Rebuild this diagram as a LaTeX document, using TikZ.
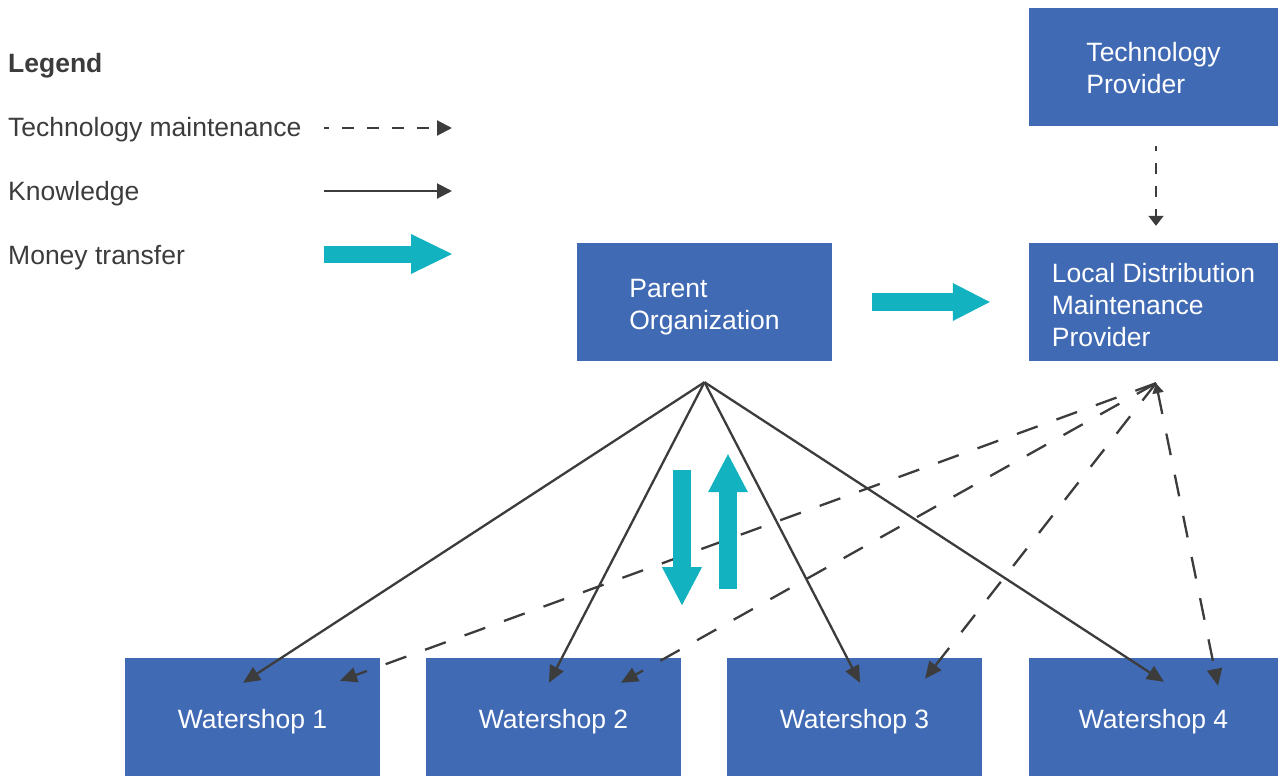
\documentclass[tikz,border=0pt]{standalone}
\usepackage{fontspec}
\setmainfont{Liberation Sans}
\usetikzlibrary{arrows.meta, calc}

\definecolor{boxblue}{RGB}{65,106,180}
\definecolor{moneyteal}{RGB}{18,178,193}
\definecolor{linegray}{RGB}{60,60,60}

% box text, lowered a little inside its box
\newcommand{\boxlines}[2]{\raisebox{-#1}[\height][\depth]{\begin{tabular}{@{}l@{}}#2\end{tabular}}}

\begin{document}
\begin{tikzpicture}[x=1pt, y=-1pt,
    box/.style={rectangle, fill=boxblue, text=white, minimum width=255pt,
      minimum height=118pt, inner sep=0pt,
      font=\fontsize{26.5}{32}\selectfont},
    legtext/.style={anchor=west, inner sep=0pt, text=linegray,
      font=\fontsize{26.5}{32}\selectfont},
    know/.style={draw=linegray, line width=2.3pt,
      -{Triangle[length=17pt,width=15pt]}},
    maint/.style={know, dash pattern=on 22pt off 20pt},
    money/.style={draw=moneyteal, line width=18pt,
      -{Triangle[length=38pt,width=40pt,line width=0pt]}}]
  \useasboundingbox (0,0) rectangle (1278,779);

  % legend
  \node[legtext, font=\fontsize{26.5}{32}\selectfont\bfseries] (legend) at (8,66) {Legend};
  \node[legtext] (legmaint) at (8,130) {Technology maintenance};
  \node[legtext] (legknow) at (8,194) {Knowledge};
  \node[legtext] (legmoney) at (8,258) {Money transfer};
  \coordinate (lm1) at (324,128); \coordinate (lm2) at (452,128);
  \coordinate (lk1) at (324,191); \coordinate (lk2) at (452,191);
  \coordinate (lt1) at (324,254); \coordinate (lt2) at (452,254);
  \draw[know, line width=2pt, dash pattern=on 12pt off 13pt, dash phase=7pt,
    -{Triangle[length=15pt,width=15pt]}] (lm1) -- (lm2);
  \draw[know, line width=2pt, -{Triangle[length=15pt,width=15pt]}] (lk1) -- (lk2);
  \draw[money, line width=17pt, -{Triangle[length=41pt,width=40pt,line width=0pt]}] (lt1) -- (lt2);

  % boxes
  \node[box, minimum width=249pt] (techprov) at (1153.5,67) {\boxlines{4pt}{Technology\\Provider}};
  \node[box, minimum width=249pt] (ldmp) at (1153.5,302) {\boxlines{6pt}{Local Distribution\\Maintenance\\Provider}};
  \node[box] (parent) at (704.5,302) {\boxlines{5pt}{Parent\\Organization}};
  \node[box] (ws1) at (252.5,717) {\boxlines{5pt}{Watershop 1}};
  \node[box] (ws2) at (553.5,717) {\boxlines{5pt}{Watershop 2}};
  \node[box] (ws3) at (854.5,717) {\boxlines{5pt}{Watershop 3}};
  \node[box, minimum width=249pt] (ws4) at (1153.5,717) {\boxlines{5pt}{Watershop 4}};

  \coordinate (pohub) at ([shift={(0,21)}]parent.south);
  \coordinate (ldhub) at ([shift={(2.5,22)}]ldmp.south);

  % technology maintenance
  \draw[know, line width=2pt, dash pattern=on 11pt off 12pt, dash phase=6pt,
    -{Triangle[length=10pt,width=15pt]}]
    ([shift={(2.5,20)}]techprov.south) -- ([shift={(2.5,-17)}]ldmp.north);
  \draw[maint] (ldhub) -- ([shift={(87.5,23)}]ws1.north);
  \draw[maint] (ldhub) -- ([shift={(67.5,25)}]ws2.north);
  \draw[maint] (ldhub) -- ([shift={(70.5,21)}]ws3.north);
  \draw[maint, {Triangle[length=10pt,width=11pt]}-{Triangle[length=17pt,width=15pt]}]
    (ldhub) -- ([shift={(64.5,28)}]ws4.north);

  % knowledge
  \draw[know] (pohub) -- ([shift={(-9.5,25)}]ws1.north);
  \draw[know] (pohub) -- ([shift={(-4.5,25)}]ws2.north);
  \draw[know] (pohub) -- ([shift={(5.5,25)}]ws3.north);
  \draw[know] (pohub) -- ([shift={(10.5,24)}]ws4.north);

  % money transfer
  \draw[money, -{Triangle[length=37pt,width=38pt,line width=0pt]}]
    ([shift={(40,0)}]parent.east) -- ([shift={(-39,0)}]ldmp.west);
  \draw[money] ([shift={(-22.5,88)}]pohub) -- ([shift={(-22.5,223)}]pohub);
  \draw[money] ([shift={(23.5,207)}]pohub) -- ([shift={(23.5,72)}]pohub);
\end{tikzpicture}
\end{document}
